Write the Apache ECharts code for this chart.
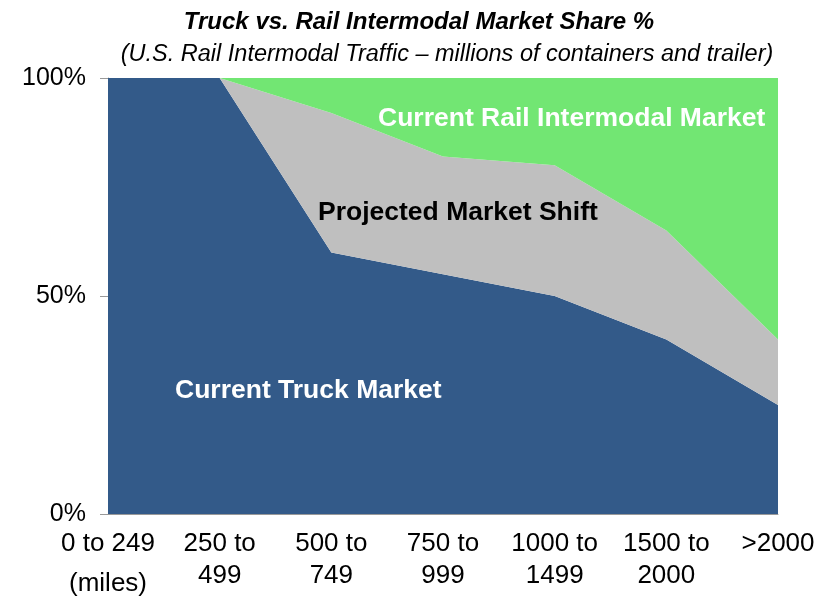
<!DOCTYPE html>
<html>
<head>
<meta charset="utf-8">
<script src="https://cdn.jsdelivr.net/npm/echarts@6/dist/echarts.min.js"></script>
<style>
  html, body { margin: 0; padding: 0; background: #fff; }
  #chart { width: 832px; height: 596px; }
</style>
</head>
<body>
<div id="chart"></div>
<script>
// distance bands (miles)
const categories = ['0 to 249\n(miles)', '250 to\n499', '500 to\n749', '750 to\n999', '1000 to\n1499', '1500 to\n2000', '>2000']
// share %, stacked
const truckShare = [100, 100, 60, 55, 50, 40, 25]
const shiftShare = [0, 0, 32, 27, 30, 25, 15]
const railShare = [0, 0, 8, 18, 20, 35, 60]
const yTicks = [0, 50, 100]

const chart = echarts.init(document.getElementById('chart'))

const font = 'Liberation Sans, Arial, sans-serif'

const areaSeries = (name, data, color) => ({
  name: name,
  type: 'line',
  stack: 'share',
  data: data,
  symbol: 'none',
  lineStyle: { width: 0 },
  areaStyle: { color: color, opacity: 1 },
  itemStyle: { color: color }
})

// text sitting on the areas
const areaLabel = (text, x, y, color, shadow) => ({
  type: 'text', x: x, y: y, z: 100,
  style: {
    text: text, fill: color,
    font: 'bold 26.5px ' + font,
    textVerticalAlign: 'middle',
    shadowColor: shadow ? 'rgba(0,0,0,0.5)' : 'transparent',
    shadowBlur: shadow ? 3 : 0, shadowOffsetX: shadow ? 1 : 0, shadowOffsetY: shadow ? 2 : 0
  }
})

const option = {
  animation: false,
  title: [{
    text: 'Truck vs. Rail Intermodal Market Share %',
    left: 414, top: 5, textAlign: 'center',
    textStyle: { fontFamily: font, fontSize: 24, fontWeight: 'bold', fontStyle: 'italic', color: '#000' }
  }, {
    text: '(U.S. Rail Intermodal Traffic \u2013 millions of containers and trailer)',
    left: 442, top: 38, textAlign: 'center',
    textStyle: { fontFamily: font, fontSize: 23.5, fontWeight: 'normal', fontStyle: 'italic', color: '#000' }
  }],
  grid: { left: 108, right: 54, top: 78, bottom: 82, containLabel: false, outerBoundsMode: 'none' },
  xAxis: {
    type: 'category',
    data: categories,
    boundaryGap: false,
    axisLine: { lineStyle: { color: '#999' } },
    axisTick: { show: false },
    axisLabel: {
      fontFamily: font, fontSize: 26, color: '#000', lineHeight: 32, margin: 14, interval: 0,
      formatter: v => v.includes('(miles)') ? v.replace('(miles)', '{m|(miles)}') : v,
      rich: { m: { fontFamily: font, fontSize: 26, color: '#000', lineHeight: 48 } }
    }
  },
  yAxis: {
    type: 'value',
    min: 0, max: 100, interval: 50,
    splitLine: { show: false },
    axisLine: { show: true, lineStyle: { color: '#999' } },
    axisTick: { show: true, length: 8, lineStyle: { color: '#999' } },
    axisLabel: {
      fontFamily: font, fontSize: 25, color: '#000', margin: 22,
      formatter: v => yTicks.includes(v) ? v + '%' : ''
    }
  },
  series: [
    areaSeries('Current Truck Market', truckShare, '#335a89'),
    areaSeries('Projected Market Shift', shiftShare, '#bfbfbf'),
    areaSeries('Current Rail Intermodal Market', railShare, '#72e673')
  ],
  graphic: [
    areaLabel('Current Rail Intermodal Market', 378, 119, '#fff', true),
    areaLabel('Projected Market Shift', 318, 213, '#000', false),
    areaLabel('Current Truck Market', 175, 391, '#fff', false)
  ]
}

chart.setOption(option)
</script>
</body>
</html>
